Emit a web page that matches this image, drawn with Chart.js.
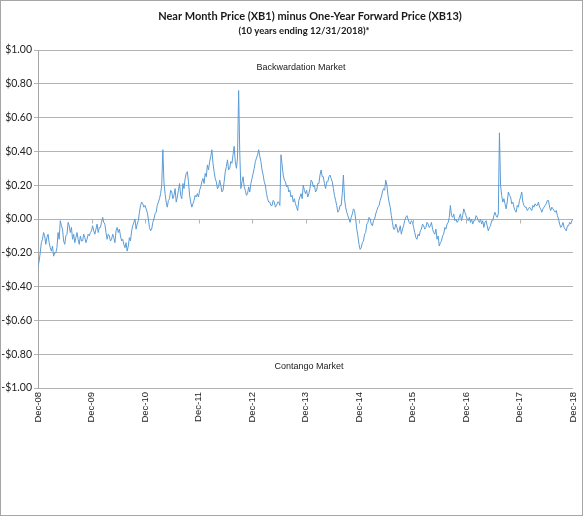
<!DOCTYPE html>
<html lang="en">
<head>
<meta charset="UTF-8" />
<title>Near Month Price minus One-Year Forward Price</title>
<style>
  html, body { margin: 0; background: #fff; }
  .frame { width: 583px; height: 516px; box-sizing: border-box; border: 1px solid #a6a6a6; }
  canvas { display: block; }
</style>
</head>
<body>
<div class="frame"><canvas id="spread" width="581" height="514"></canvas></div>

<script src="https://cdn.jsdelivr.net/npm/chart.js@4.4.3"></script>
<script>
  // XB1 - XB13, about one reading a week, Dec-08 .. Dec-18
  const y08 = [-0.28, -0.25, -0.20, -0.14, -0.12, -0.08, -0.10, -0.15, -0.11, -0.09, -0.14, -0.17, -0.19, -0.16, -0.22, -0.20, -0.20, -0.17, -0.08, -0.12, -0.01, -0.04, -0.06, -0.13, -0.15, -0.10, -0.09, -0.02, -0.04, -0.08, -0.05, -0.12, -0.09, -0.14, -0.11, -0.08, -0.12, -0.15, -0.10, -0.13, -0.13, -0.09, -0.11, -0.14, -0.12, -0.09, -0.10, -0.08];
  const y09 = [-0.07, -0.04, -0.07, -0.09, -0.06, -0.03, -0.08, -0.05, -0.05, -0.02, 0.01, -0.02, -0.03, -0.08, -0.12, -0.09, -0.10, -0.13, -0.12, -0.09, -0.11, -0.14, -0.07, -0.05, -0.08, -0.06, -0.10, -0.13, -0.12, -0.15, -0.17, -0.14, -0.19, -0.16, -0.11, -0.13, -0.07, -0.04, -0.02, 0.00, -0.06, -0.03, -0.01, 0.04, 0.08, 0.10, 0.09, 0.07];
  const y10 = [0.08, 0.06, 0.04, 0.00, -0.05, -0.07, -0.06, -0.02, 0.00, 0.03, 0.04, 0.08, 0.10, 0.12, 0.15, 0.20, 0.41, 0.22, 0.15, 0.10, 0.07, 0.11, 0.12, 0.17, 0.16, 0.12, 0.14, 0.18, 0.10, 0.13, 0.17, 0.21, 0.14, 0.12, 0.21, 0.18, 0.24, 0.27, 0.28, 0.22, 0.14, 0.10, 0.07, 0.09, 0.11, 0.14, 0.13, 0.15];
  const y11 = [0.13, 0.17, 0.19, 0.22, 0.24, 0.21, 0.27, 0.25, 0.32, 0.29, 0.34, 0.37, 0.41, 0.33, 0.28, 0.24, 0.22, 0.18, 0.19, 0.23, 0.20, 0.16, 0.17, 0.22, 0.28, 0.31, 0.35, 0.29, 0.30, 0.34, 0.33, 0.38, 0.43, 0.34, 0.30, 0.36, 0.76, 0.40, 0.18, 0.22, 0.25, 0.19, 0.17, 0.14, 0.15, 0.19, 0.16, 0.21];
  const y12 = [0.24, 0.27, 0.30, 0.34, 0.36, 0.38, 0.41, 0.37, 0.34, 0.29, 0.26, 0.22, 0.20, 0.15, 0.12, 0.10, 0.10, 0.08, 0.08, 0.11, 0.10, 0.07, 0.08, 0.10, 0.10, 0.08, 0.38, 0.32, 0.26, 0.23, 0.22, 0.19, 0.20, 0.16, 0.17, 0.13, 0.14, 0.10, 0.12, 0.09, 0.07, 0.05, 0.11, 0.13, 0.15, 0.12, 0.20, 0.17];
  const y13 = [0.15, 0.17, 0.13, 0.15, 0.18, 0.23, 0.22, 0.19, 0.20, 0.16, 0.17, 0.21, 0.21, 0.26, 0.29, 0.25, 0.25, 0.21, 0.18, 0.22, 0.22, 0.25, 0.26, 0.24, 0.22, 0.18, 0.14, 0.11, 0.08, 0.04, 0.05, 0.08, 0.08, 0.15, 0.26, 0.12, 0.07, 0.04, 0.02, 0.00, -0.02, 0.01, 0.03, 0.06, 0.05, 0.00, -0.06, -0.10];
  const y14 = [-0.15, -0.18, -0.17, -0.14, -0.13, -0.09, -0.08, -0.03, -0.02, 0.01, 0.00, -0.03, -0.04, -0.01, 0.00, 0.03, 0.05, 0.07, 0.08, 0.11, 0.13, 0.16, 0.18, 0.17, 0.23, 0.20, 0.14, 0.10, 0.07, 0.02, -0.02, -0.06, -0.06, -0.03, -0.05, -0.08, -0.07, -0.04, -0.09, -0.06, -0.04, -0.01, 0.01, 0.02, 0.00, -0.02, -0.03, -0.01];
  const y15 = [-0.02, -0.05, -0.08, -0.11, -0.12, -0.09, -0.10, -0.07, -0.06, -0.03, -0.04, -0.06, -0.05, -0.02, -0.03, -0.05, -0.04, -0.02, -0.06, -0.08, -0.09, -0.06, -0.12, -0.10, -0.16, -0.14, -0.13, -0.10, -0.09, -0.05, -0.06, -0.03, -0.02, 0.01, 0.08, 0.02, 0.01, 0.03, -0.01, 0.00, -0.02, -0.01, 0.01, 0.03, -0.01, 0.02, 0.06, 0.04];
  const y16 = [0.02, 0.00, -0.01, 0.01, -0.02, 0.00, -0.03, -0.01, -0.01, 0.02, 0.01, -0.01, -0.02, 0.00, -0.03, -0.01, -0.05, -0.02, -0.01, -0.04, -0.07, -0.05, -0.04, -0.01, -0.01, 0.02, 0.04, 0.02, 0.01, 0.03, 0.51, 0.20, 0.14, 0.10, 0.12, 0.09, 0.06, 0.10, 0.16, 0.14, 0.13, 0.09, 0.10, 0.07, 0.05, 0.04, 0.08, 0.07];
  const y17 = [0.11, 0.13, 0.16, 0.10, 0.08, 0.07, 0.07, 0.05, 0.06, 0.07, 0.06, 0.05, 0.08, 0.07, 0.09, 0.08, 0.08, 0.10, 0.07, 0.06, 0.04, 0.06, 0.07, 0.08, 0.09, 0.11, 0.11, 0.07, 0.05, 0.07, 0.06, 0.05, 0.04, 0.05, 0.02, 0.00, -0.03, -0.05, -0.04, -0.02, -0.05, -0.06, -0.07, -0.04, -0.04, -0.02, -0.03, -0.01];
  const lastValue = 0.00;

  const tickLabels = ['Dec-08', 'Dec-09', 'Dec-10', 'Dec-11', 'Dec-12', 'Dec-13', 'Dec-14', 'Dec-15', 'Dec-16', 'Dec-17', 'Dec-18'];
  const perYear = 48;

  const spread = [].concat(y08, y09, y10, y11, y12, y13, y14, y15, y16, y17, [lastValue]);
  const points = spread.map((v, i) => ({ x: i / perYear, y: v }));

  const money = v => {
    const r = Math.round(v * 100) / 100;
    return (r < 0 ? '-$' : '$') + Math.abs(r).toFixed(2);
  };

  // title, the two market notes and the small year ticks on the zero line
  const extras = {
    id: 'extras',
    afterDraw(chart) {
      const ctx = chart.ctx;
      const x = chart.scales.x, y = chart.scales.y;
      ctx.save();
      ctx.textAlign = 'center';
      ctx.textBaseline = 'middle';
      ctx.fillStyle = '#1a1a1a';
      ctx.font = 'bold 11px Lato';
      ctx.fillText('Near Month Price (XB1) minus One-Year Forward Price (XB13)', 309, 15);
      ctx.font = 'bold 9.5px Lato';
      ctx.fillText('(10 years ending 12/31/2018)*', 303, 30);

      ctx.fillStyle = '#222';
      ctx.font = '9px "Liberation Sans Narrow", "Liberation Sans"';
      ctx.fillText('Backwardation Market', 300, 67);
      ctx.fillText('Contango Market', 308, 366);

      ctx.strokeStyle = '#b3b3b3';
      ctx.lineWidth = 1;
      const y0 = Math.round(y.getPixelForValue(0)) + 0.5;
      for (let k = 1; k < tickLabels.length - 1; k++) {
        const px = Math.round(x.getPixelForValue(k)) + 0.5;
        ctx.beginPath();
        ctx.moveTo(px, y0);
        ctx.lineTo(px, y0 + 4);
        ctx.stroke();
      }
      ctx.restore();
    }
  };

  new Chart(document.getElementById('spread').getContext('2d'), {
    type: 'line',
    data: {
      datasets: [{
        data: points,
        borderColor: '#5b9bd5',
        borderWidth: 1,
        pointRadius: 0,
        tension: 0,
        fill: false
      }]
    },
    options: {
      responsive: false,
      animation: false,
      layout: { padding: { top: 49, right: 9, bottom: 0, left: 0 } },
      plugins: { legend: { display: false }, tooltip: { enabled: false } },
      scales: {
        x: {
          type: 'linear',
          min: 0,
          max: 10,
          grid: { display: false, drawTicks: false },
          border: { display: false },
          ticks: {
            stepSize: 1,
            autoSkip: false,
            minRotation: 90,
            maxRotation: 90,
            padding: 4,
            color: '#222',
            font: { family: '"Liberation Sans Narrow", "Liberation Sans"', size: 9.5 },
            callback: v => tickLabels[v]
          },
          afterFit: s => { s.height = 127; s.paddingLeft = 0; s.paddingRight = 0; }
        },
        y: {
          min: -1,
          max: 1,
          grid: { color: '#b3b3b3', tickLength: 4 },
          border: { color: '#a6a6a6' },
          ticks: {
            stepSize: 0.2,
            padding: 2,
            color: '#222',
            font: { family: 'Lato', size: 10.5 },
            callback: v => money(v)
          },
          afterFit: s => { s.width = 37; }
        }
      }
    },
    plugins: [extras]
  });
</script>
</body>
</html>
